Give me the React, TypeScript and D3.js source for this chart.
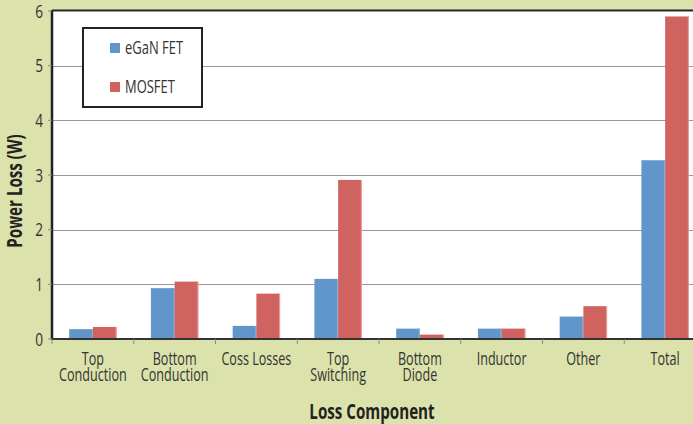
import React from 'react';
import * as d3 from 'd3';

const categories = [
  ['Top', 'Conduction'],
  ['Bottom', 'Conduction'],
  ['Coss Losses'],
  ['Top', 'Switching'],
  ['Bottom', 'Diode'],
  ['Inductor'],
  ['Other'],
  ['Total'],
];
const seriesNames = ['eGaN FET', 'MOSFET'];
const eganValues = [0.18, 0.93, 0.24, 1.1, 0.19, 0.19, 0.41, 3.27];
const mosfetValues = [0.22, 1.05, 0.83, 2.91, 0.08, 0.19, 0.6, 5.9];
const yTicks = [0, 1, 2, 3, 4, 5, 6];

const W = 693;
const H = 424;
const colors = ['#6196cb', '#d0635f'];
const font = "'Open Sans', sans-serif";

// condensed text: squeeze horizontally to mimic a narrow face
function CText({ x, y, size, anchor = 'start', bold = false, rotate = 0, sx = 0.72, children }: any) {
  return (
    <text
      transform={`translate(${x},${y}) rotate(${rotate}) scale(${sx},1)`}
      textAnchor={anchor}
      fontFamily={font}
      fontSize={size}
      fontWeight={bold ? 'bold' : 'normal'}
      fill={bold ? '#222' : '#333'}
    >
      {children}
    </text>
  );
}

export default function App() {
  const left = 52;
  const top = 11;
  const bottom = 339;
  const keys = categories.map((c) => c.join(' '));

  const x = d3.scaleBand().domain(keys).range([left, 706]).padding(0);
  const bw = x.bandwidth();
  const x1 = d3.scaleBand().domain(seriesNames).range([bw * 0.21, bw * 0.79]).padding(0);
  const y = d3.scaleLinear().domain([0, 6]).range([bottom, top]);
  const series = [eganValues, mosfetValues];

  return (
    <svg width={W} height={H} style={{ display: 'block', position: 'absolute', left: 0, top: 0 }}>
      <rect x={0} y={0} width={W} height={H} fill="#dce2ab" />
      <rect x={left} y={top} width={W - left} height={bottom - top} fill="#ffffff" />
      <line x1={left} x2={W} y1={top - 0.5} y2={top - 0.5} stroke="#222" strokeWidth={2} />
      {yTicks.slice(1).map((t) => (
        <line key={t} x1={left} x2={W} y1={Math.round(y(t)) + 0.5} y2={Math.round(y(t)) + 0.5} stroke="#9a9a9a" strokeWidth={1} />
      ))}
      {series.map((vals, si) =>
        vals.map((v, i) => {
          const bx = (x(keys[i]) ?? 0) + (x1(seriesNames[si]) ?? 0);
          return (
            <g key={`${si}-${i}`}>
              <rect x={bx} y={y(v)} width={x1.bandwidth()} height={bottom - y(v)} fill={colors[si]} />
              <rect x={bx + x1.bandwidth() - 1} y={y(v)} width={1} height={bottom - y(v)} fill={si === 0 ? '#8fb4dc' : '#eaa3a1'} />
            </g>
          );
        })
      )}
      {/* y axis */}
      <line x1={left} x2={left} y1={top - 1} y2={bottom + 1} stroke="#222" strokeWidth={2.5} />
      {yTicks.map((t) => (
        <g key={t}>
          <line x1={left - 4} x2={left} y1={y(t)} y2={y(t)} stroke="#888" strokeWidth={1} />
          <CText x={left - 9} y={y(t) + 6.5} size={19} anchor="end">{t}</CText>
        </g>
      ))}
      {/* x axis */}
      <line x1={left} x2={W} y1={bottom} y2={bottom} stroke="#333" strokeWidth={2} />
      {keys.map((k, i) => (
        <g key={k}>
          <line x1={x(k) ?? 0} x2={x(k) ?? 0} y1={bottom} y2={bottom + 5} stroke="#888" strokeWidth={1} />
          {categories[i].map((line, li) => (
            <CText key={li} x={(x(k) ?? 0) + bw / 2} y={365 + li * 16} size={17.5} anchor="middle">{line}</CText>
          ))}
        </g>
      ))}
      {/* titles */}
      <CText x={372} y={419} size={20.5} anchor="middle" bold sx={0.74}>Loss Component</CText>
      <CText x={22} y={191} size={20.5} anchor="middle" bold sx={0.74} rotate={-90}>Power Loss (W)</CText>
      {/* legend */}
      <rect x={83} y={28} width={119} height={79} fill="#fff" stroke="#222" strokeWidth={2} />
      {seriesNames.map((s, i) => (
        <g key={s}>
          <rect x={110} y={43 + i * 39} width={10} height={10} fill={colors[i]} />
          <CText x={125} y={54 + i * 39} size={18}>{s}</CText>
        </g>
      ))}
    </svg>
  );
}
